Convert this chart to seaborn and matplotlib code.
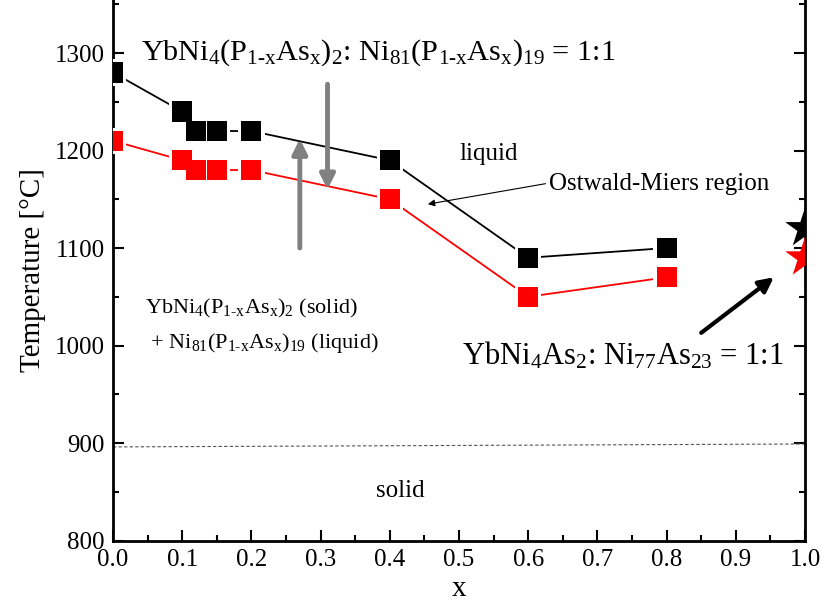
import matplotlib
matplotlib.use("Agg")
import matplotlib.pyplot as plt
import seaborn as sns
import pandas as pd
from matplotlib.ticker import MultipleLocator

# ---- data ----
x_vals = [0.0, 0.1, 0.12, 0.15, 0.2, 0.4, 0.6, 0.8]
t_upper = [1280, 1240, 1220, 1220, 1220, 1190, 1090, 1100]   # black squares
t_lower = [1210, 1190, 1180, 1180, 1180, 1150, 1050, 1070]   # red squares
star_x = [1.0, 1.0]
star_t = [1120, 1090]
star_colors = ["black", "red"]
solid_line_x = [0.0, 1.0]
solid_line_t = [896, 899]
xticks = [0.0, 0.1, 0.2, 0.3, 0.4, 0.5, 0.6, 0.7, 0.8, 0.9, 1.0]
yticks = [800, 900, 1000, 1100, 1200, 1300]

sns.set_theme(style="ticks")
plt.rcParams["font.family"] = ["Liberation Serif", "DejaVu Serif"]
plt.rcParams["mathtext.fontset"] = "custom"
plt.rcParams["mathtext.rm"] = "Liberation Serif"
plt.rcParams["mathtext.it"] = "Liberation Serif"
for k in ["text.color", "axes.labelcolor", "xtick.color", "ytick.color", "axes.edgecolor"]:
    plt.rcParams[k] = "black"

fig = plt.figure(figsize=(8.24, 6.11), dpi=100)
ax = fig.add_axes([113/824, 70.5/611, 692/824, 540.5/611])

df_u = pd.DataFrame({"x": x_vals, "T": t_upper})
df_l = pd.DataFrame({"x": x_vals, "T": t_lower})

for df, col in [(df_u, "black"), (df_l, "red")]:
    sns.lineplot(data=df, x="x", y="T", ax=ax, color=col, lw=1.3,
                 sort=False, estimator=None, zorder=2)
    sns.scatterplot(data=df, x="x", y="T", ax=ax, marker="s", s=360,
                    color="white", edgecolor="none", linewidth=0, zorder=3)
    sns.scatterplot(data=df, x="x", y="T", ax=ax, marker="s", s=210,
                    color=col, edgecolor="none", linewidth=0, zorder=4)

df_s = pd.DataFrame({"x": star_x, "T": star_t, "c": star_colors})
sns.scatterplot(data=df_s, x="x", y="T", hue="c", palette={"black": "black", "red": "red"},
                ax=ax, marker="*", s=900, edgecolor="none", linewidth=0,
                legend=False, zorder=5)

ax.plot(solid_line_x, solid_line_t, ls=(0, (3, 2)), color="#555555", lw=0.8, zorder=1)

ax.set_xlim(0, 1.0)
ax.set_ylim(800, 1354.4)
ax.set_xticks(xticks)
ax.set_yticks(yticks)
ax.set_xticklabels([f"{v:.1f}" for v in xticks])
ax.xaxis.set_minor_locator(MultipleLocator(0.05))
ax.yaxis.set_minor_locator(MultipleLocator(50))
ax.tick_params(which="major", direction="in", length=8, width=1.5, labelsize=18,
               right=True, pad=6)
ax.tick_params(which="minor", direction="in", length=4, width=1.5, right=True)
for s in ["left", "bottom", "right"]:
    ax.spines[s].set_linewidth(2)
ax.spines["top"].set_visible(False)
ax.set_xlabel("x", fontsize=21, labelpad=4)
ax.set_ylabel("Temperature [°C]", fontsize=21, labelpad=6)

sub = r"_{\mathrm{1}\text{-}\mathrm{x}}"
# annotations
ax.text(0.04, 1300, r"YbNi$_4$(P$" + sub + r"$As$_\mathrm{x}$)$_2$: Ni$_{81}$(P$" + sub +
        r"$As$_\mathrm{x}$)$_{19}$ = 1:1",
        fontsize=21.8, ha="left", va="center")
ax.text(0.5, 1196, "liquid", fontsize=18, ha="left", va="center")
ax.text(0.63, 1166, "Ostwald-Miers region", fontsize=18, ha="left", va="center")
ax.annotate("", xy=(0.455, 1145), xytext=(0.625, 1166),
            arrowprops=dict(arrowstyle="-|>", color="black", lw=0.8,
                            mutation_scale=10, shrinkA=0, shrinkB=0))
ax.text(0.046, 1020, r"YbNi$_4$(P$" + sub + r"$As$_\mathrm{x}$)$_2$ (solid)" + "\n" +
        r" + Ni$_{81}$(P$" + sub + r"$As$_\mathrm{x}$)$_{19}$ (liquid)",
        fontsize=16, ha="left", va="center", linespacing=1.65)
ax.text(0.38, 851, "solid", fontsize=18, ha="left", va="center")
ax.text(0.505, 990, r"YbNi$_4$As$_2$: Ni$_{77}$As$_{23}$ = 1:1",
        fontsize=22, ha="left", va="center")

# gray arrows
ax.annotate("", xy=(0.27, 1212), xytext=(0.27, 1100),
            arrowprops=dict(arrowstyle="-|>", color="gray", lw=3.5,
                            mutation_scale=22, shrinkA=0, shrinkB=0))
ax.annotate("", xy=(0.31, 1160), xytext=(0.31, 1268),
            arrowprops=dict(arrowstyle="-|>", color="gray", lw=3.5,
                            mutation_scale=22, shrinkA=0, shrinkB=0))
# black arrow
ax.annotate("", xy=(0.955, 1070), xytext=(0.85, 1013),
            arrowprops=dict(arrowstyle="-|>", color="black", lw=3,
                            mutation_scale=22, shrinkA=0, shrinkB=0))

fig.savefig("out.png", dpi=100)
